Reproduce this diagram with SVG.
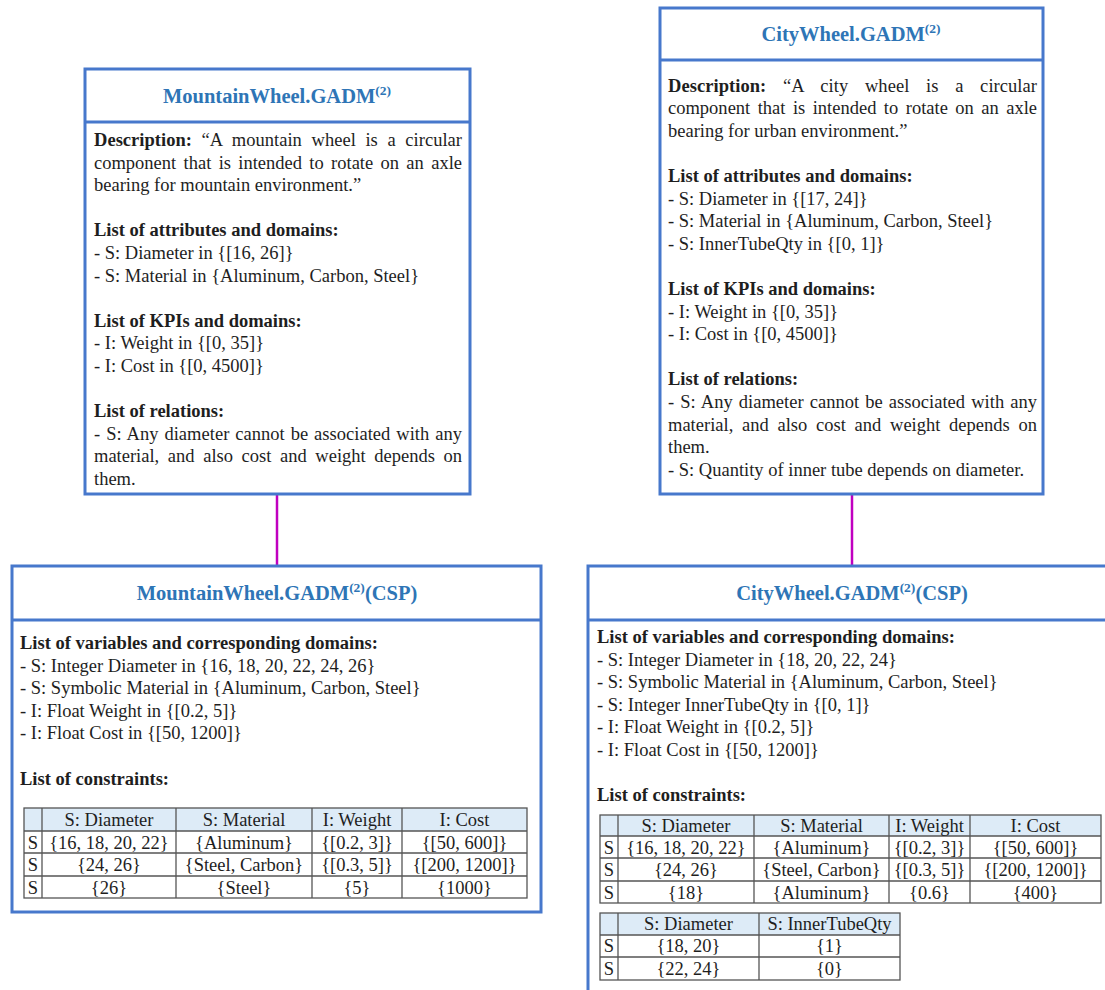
<svg xmlns="http://www.w3.org/2000/svg" width="1105" height="990" viewBox="0 0 1105 990">
<style>
.box{fill:#fff;stroke:#4778CC;stroke-width:3}
.dv{stroke:#4778CC;stroke-width:3}
.title{font-family:"Liberation Serif","Times New Roman",serif;font-weight:bold;font-size:20.5px;fill:#2E75B6;text-anchor:middle}
.t{font-family:"Liberation Serif","Times New Roman",serif;font-size:18.5px;fill:#1e1e1e}
.b{font-weight:bold}
.c{font-family:"Liberation Serif","Times New Roman",serif;font-size:18.5px;fill:#1e1e1e;text-anchor:middle}
.g line{stroke:#555;stroke-width:1.3}
.g rect.o{fill:none;stroke:#555;stroke-width:1.3}
.hd{fill:#DDEBF7}
.conn line{stroke:#C000C0;stroke-width:2.5}
</style>
<rect width="1105" height="990" fill="#fff"/>

<g class="conn" id="connectors">
<line x1="277" y1="495" x2="277" y2="566"/>
<line x1="852" y1="494" x2="852" y2="566"/>
</g>

<g id="mountain-gadm">
<rect class="box" x="85" y="69" width="385" height="425"/>
<line class="dv" x1="85" y1="122" x2="470" y2="122"/>
<text class="title" x="277" y="103">MountainWheel.GADM<tspan font-size="13.5" dy="-8.5">(2)</tspan></text>
<text class="t" x="94" y="146" word-spacing="5" textLength="368" lengthAdjust="spacing"><tspan class="b">Description:</tspan> “A mountain wheel is a circular</text>
<text class="t" x="94" y="168.6" word-spacing="2.7" textLength="368" lengthAdjust="spacing">component that is intended to rotate on an axle</text>
<text class="t" x="94" y="191.2">bearing for mountain environment.”</text>
<text class="t b" x="94" y="236.4">List of attributes and domains:</text>
<text class="t" x="94" y="259">- S: Diameter in {[16, 26]}</text>
<text class="t" x="94" y="281.6">- S: Material in {Aluminum, Carbon, Steel}</text>
<text class="t b" x="94" y="326.8">List of KPIs and domains:</text>
<text class="t" x="94" y="349.4">- I: Weight in {[0, 35]}</text>
<text class="t" x="94" y="372">- I: Cost in {[0, 4500]}</text>
<text class="t b" x="94" y="417.2">List of relations:</text>
<text class="t" x="94" y="439.8" word-spacing="1.3" textLength="368" lengthAdjust="spacing">- S: Any diameter cannot be associated with any</text>
<text class="t" x="94" y="462.4" word-spacing="4" textLength="368" lengthAdjust="spacing">material, and also cost and weight depends on</text>
<text class="t" x="94" y="485">them.</text>
</g>

<g id="city-gadm">
<rect class="box" x="660" y="8" width="383" height="486"/>
<line class="dv" x1="660" y1="60" x2="1043" y2="60"/>
<text class="title" x="851" y="41">CityWheel.GADM<tspan font-size="13.5" dy="-8.5">(2)</tspan></text>
<text class="t" x="668" y="91.6" word-spacing="12" textLength="369" lengthAdjust="spacing"><tspan class="b">Description:</tspan> “A city wheel is a circular</text>
<text class="t" x="668" y="114.2" word-spacing="2.8" textLength="369" lengthAdjust="spacing">component that is intended to rotate on an axle</text>
<text class="t" x="668" y="136.8">bearing for urban environment.”</text>
<text class="t b" x="668" y="182">List of attributes and domains:</text>
<text class="t" x="668" y="204.6">- S: Diameter in {[17, 24]}</text>
<text class="t" x="668" y="227.2">- S: Material in {Aluminum, Carbon, Steel}</text>
<text class="t" x="668" y="249.8">- S: InnerTubeQty in {[0, 1]}</text>
<text class="t b" x="668" y="295">List of KPIs and domains:</text>
<text class="t" x="668" y="317.6">- I: Weight in {[0, 35]}</text>
<text class="t" x="668" y="340.2">- I: Cost in {[0, 4500]}</text>
<text class="t b" x="668" y="385.4">List of relations:</text>
<text class="t" x="668" y="408" word-spacing="1.4" textLength="369" lengthAdjust="spacing">- S: Any diameter cannot be associated with any</text>
<text class="t" x="668" y="430.6" word-spacing="4.1" textLength="369" lengthAdjust="spacing">material, and also cost and weight depends on</text>
<text class="t" x="668" y="453.2">them.</text>
<text class="t" x="668" y="475.8">- S: Quantity of inner tube depends on diameter.</text>
</g>

<g id="mountain-csp">
<rect class="box" x="12" y="566" width="529" height="346"/>
<line class="dv" x1="12" y1="620" x2="541" y2="620"/>
<text class="title" x="277" y="600">MountainWheel.GADM<tspan font-size="13.5" dy="-8.5">(2)</tspan><tspan dy="8.5">(CSP)</tspan></text>
<text class="t b" x="20" y="649">List of variables and corresponding domains:</text>
<text class="t" x="20" y="671.6">- S: Integer Diameter in {16, 18, 20, 22, 24, 26}</text>
<text class="t" x="20" y="694.2">- S: Symbolic Material in {Aluminum, Carbon, Steel}</text>
<text class="t" x="20" y="716.8">- I: Float Weight in {[0.2, 5]}</text>
<text class="t" x="20" y="739.4">- I: Float Cost in {[50, 1200]}</text>
<text class="t b" x="20" y="784.6">List of constraints:</text>
<g class="g">
<rect class="hd" x="24" y="808" width="503" height="23"/>
<rect class="o" x="24" y="808" width="503" height="90"/>
<line x1="24" y1="831" x2="527" y2="831"/>
<line x1="24" y1="853" x2="527" y2="853"/>
<line x1="24" y1="876" x2="527" y2="876"/>
<line x1="42" y1="808" x2="42" y2="898"/>
<line x1="176" y1="808" x2="176" y2="898"/>
<line x1="312" y1="808" x2="312" y2="898"/>
<line x1="402" y1="808" x2="402" y2="898"/>
</g>
<text class="c" x="109" y="826">S: Diameter</text>
<text class="c" x="244" y="826">S: Material</text>
<text class="c" x="357" y="826">I: Weight</text>
<text class="c" x="464.5" y="826">I: Cost</text>
<text class="c" x="33" y="848.5">S</text>
<text class="c" x="109" y="848.5">{16, 18, 20, 22}</text>
<text class="c" x="244" y="848.5">{Aluminum}</text>
<text class="c" x="357" y="848.5">{[0.2, 3]}</text>
<text class="c" x="464.5" y="848.5">{[50, 600]}</text>
<text class="c" x="33" y="871">S</text>
<text class="c" x="109" y="871">{24, 26}</text>
<text class="c" x="244" y="871">{Steel, Carbon}</text>
<text class="c" x="357" y="871">{[0.3, 5]}</text>
<text class="c" x="464.5" y="871">{[200, 1200]}</text>
<text class="c" x="33" y="893.5">S</text>
<text class="c" x="109" y="893.5">{26}</text>
<text class="c" x="244" y="893.5">{Steel}</text>
<text class="c" x="357" y="893.5">{5}</text>
<text class="c" x="464.5" y="893.5">{1000}</text>
</g>

<g id="city-csp">
<rect class="box" x="588" y="566" width="540" height="450"/>
<line class="dv" x1="588" y1="620" x2="1105" y2="620"/>
<text class="title" x="852" y="600">CityWheel.GADM<tspan font-size="13.5" dy="-8.5">(2)</tspan><tspan dy="8.5">(CSP)</tspan></text>
<text class="t b" x="597" y="643">List of variables and corresponding domains:</text>
<text class="t" x="597" y="665.6">- S: Integer Diameter in {18, 20, 22, 24}</text>
<text class="t" x="597" y="688.2">- S: Symbolic Material in {Aluminum, Carbon, Steel}</text>
<text class="t" x="597" y="710.8">- S: Integer InnerTubeQty in {[0, 1]}</text>
<text class="t" x="597" y="733.4">- I: Float Weight in {[0.2, 5]}</text>
<text class="t" x="597" y="756">- I: Float Cost in {[50, 1200]}</text>
<text class="t b" x="597" y="801.2">List of constraints:</text>
<g class="g">
<rect class="hd" x="600" y="815" width="501" height="21"/>
<rect class="o" x="600" y="815" width="501" height="88"/>
<line x1="600" y1="836" x2="1101" y2="836"/>
<line x1="600" y1="858" x2="1101" y2="858"/>
<line x1="600" y1="881" x2="1101" y2="881"/>
<line x1="618" y1="815" x2="618" y2="903"/>
<line x1="754" y1="815" x2="754" y2="903"/>
<line x1="889" y1="815" x2="889" y2="903"/>
<line x1="970" y1="815" x2="970" y2="903"/>
</g>
<text class="c" x="686" y="832">S: Diameter</text>
<text class="c" x="821.5" y="832">S: Material</text>
<text class="c" x="929.5" y="832">I: Weight</text>
<text class="c" x="1035.5" y="832">I: Cost</text>
<text class="c" x="609" y="853.5">S</text>
<text class="c" x="686" y="853.5">{16, 18, 20, 22}</text>
<text class="c" x="821.5" y="853.5">{Aluminum}</text>
<text class="c" x="929.5" y="853.5">{[0.2, 3]}</text>
<text class="c" x="1035.5" y="853.5">{[50, 600]}</text>
<text class="c" x="609" y="876">S</text>
<text class="c" x="686" y="876">{24, 26}</text>
<text class="c" x="821.5" y="876">{Steel, Carbon}</text>
<text class="c" x="929.5" y="876">{[0.3, 5]}</text>
<text class="c" x="1035.5" y="876">{[200, 1200]}</text>
<text class="c" x="609" y="898.5">S</text>
<text class="c" x="686" y="898.5">{18}</text>
<text class="c" x="821.5" y="898.5">{Aluminum}</text>
<text class="c" x="929.5" y="898.5">{0.6}</text>
<text class="c" x="1035.5" y="898.5">{400}</text>
<g class="g">
<rect class="hd" x="600" y="913" width="300" height="22"/>
<rect class="o" x="600" y="913" width="300" height="67"/>
<line x1="600" y1="935" x2="900" y2="935"/>
<line x1="600" y1="957" x2="900" y2="957"/>
<line x1="618" y1="913" x2="618" y2="980"/>
<line x1="759" y1="913" x2="759" y2="980"/>
</g>
<text class="c" x="688.5" y="930">S: Diameter</text>
<text class="c" x="829.5" y="930">S: InnerTubeQty</text>
<text class="c" x="609" y="952">S</text>
<text class="c" x="688.5" y="952">{18, 20}</text>
<text class="c" x="829.5" y="952">{1}</text>
<text class="c" x="609" y="974.5">S</text>
<text class="c" x="688.5" y="974.5">{22, 24}</text>
<text class="c" x="829.5" y="974.5">{0}</text>
</g>
</svg>
